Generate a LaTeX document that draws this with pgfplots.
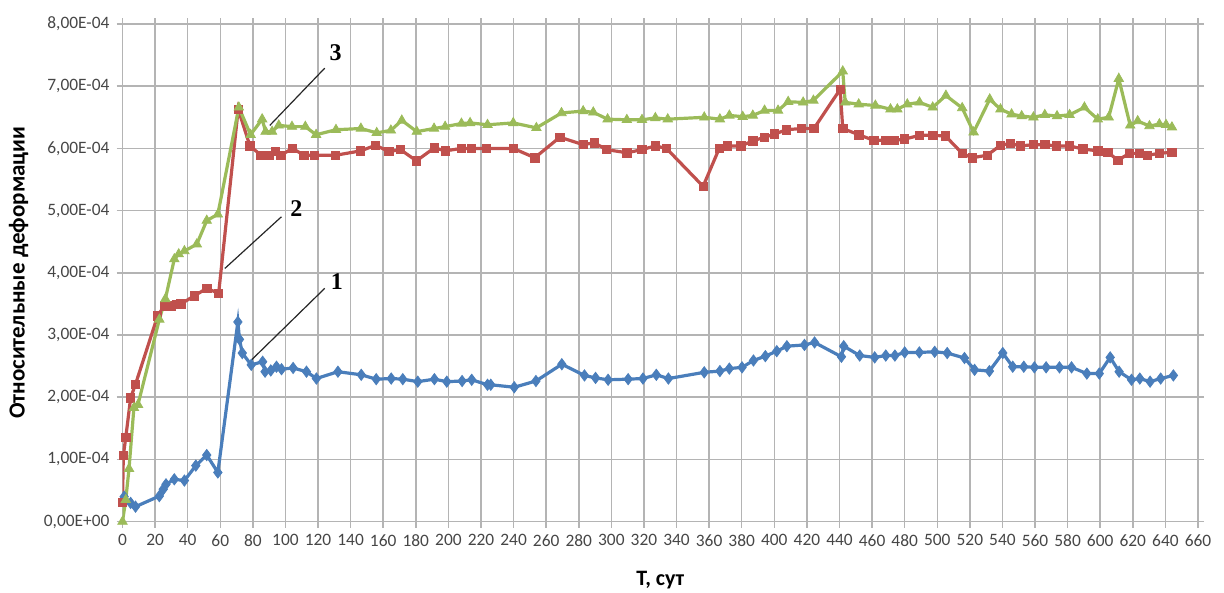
\documentclass[border=0pt]{standalone}
\usepackage{fontspec}
\setmainfont{Carlito}
\newfontfamily\serif{Liberation Serif}
\usepackage{pgfplots}
\pgfplotsset{compat=1.18}
\definecolor{s1}{RGB}{74,126,187}
\definecolor{s2}{RGB}{192,80,77}
\definecolor{s3}{RGB}{155,187,89}
\definecolor{gridc}{RGB}{180,180,180}
\definecolor{tickc}{RGB}{70,70,70}
\begin{document}
\begin{tikzpicture}
\path[use as bounding box] (-61.25pt,-35.7pt) rectangle (550.75pt,260.8pt);
\begin{axis}[
  at={(0,0)}, anchor=south west,
  scale only axis, width=537.75pt, height=248.8pt,
  xmin=0, xmax=660, ymin=0, ymax=8e-4,
  xtick={0,20,...,660},
  ytick={0,1e-4,2e-4,3e-4,4e-4,5e-4,6e-4,7e-4,8e-4},
  yticklabels={{0,00E+00},{1,00E-04},{2,00E-04},{3,00E-04},{4,00E-04},{5,00E-04},{6,00E-04},{7,00E-04},{8,00E-04}},
  scaled y ticks=false,
  /pgf/number format/assume math mode=true,
  grid=major,
  major grid style={gridc, line width=0.75pt},
  axis line style={gridc, line width=0.75pt},
  tick style={gridc, line width=0.75pt},
  tick align=outside, major tick length=3pt,
  ticklabel style={font=\fontsize{8.7}{10}\selectfont, text=tickc},
  xlabel={T, сут},
  ylabel={Относительные деформации},
  xlabel style={font=\bfseries\fontsize{11}{12}\selectfont, at={(axis description cs:0.5,-0.1166)}, anchor=center},
  ylabel style={font=\bfseries\fontsize{11.5}{12}\selectfont, at={(axis description cs:-0.0967,0.5)}, anchor=center},
  every axis plot/.append style={line width=1.6pt},
]
\addplot[s1, mark=diamond*, mark size=2.8pt, mark options={line width=0.4pt}] coordinates {
(1,0.40e-4) (5,0.30e-4) (8,0.24e-4) (22.6,0.41e-4) (25,0.52e-4) (26.7,0.60e-4) (31.8,0.68e-4) (38,0.66e-4)
(45,0.90e-4) (51.7,1.07e-4) (58.5,0.79e-4) (70.8,3.21e-4) (71.8,2.93e-4) (73.5,2.71e-4) (79,2.52e-4)
(86,2.57e-4) (87.5,2.41e-4) (91,2.43e-4) (94.5,2.49e-4) (97.6,2.45e-4) (104.7,2.47e-4) (112.9,2.41e-4)
(119,2.30e-4) (132.2,2.41e-4) (146.5,2.36e-4) (155.7,2.29e-4) (164.9,2.30e-4) (172,2.29e-4) (181.2,2.25e-4)
(191.4,2.29e-4) (199,2.25e-4) (208.4,2.26e-4) (214.3,2.28e-4) (224,2.20e-4) (226,2.20e-4) (240.4,2.16e-4)
(253.7,2.26e-4) (269.6,2.53e-4) (283.5,2.35e-4) (290.3,2.31e-4) (298,2.28e-4) (310.3,2.29e-4) (319.4,2.30e-4)
(327.6,2.36e-4) (335,2.30e-4) (357,2.40e-4) (366.6,2.42e-4) (372.4,2.46e-4) (380.2,2.48e-4) (387.2,2.59e-4)
(394.5,2.66e-4) (401.5,2.74e-4) (407.7,2.82e-4) (418.5,2.84e-4) (424.7,2.88e-4) (441.2,2.65e-4) (442.6,2.82e-4)
(452.4,2.67e-4) (461.6,2.64e-4) (468.4,2.67e-4) (474,2.67e-4) (480,2.72e-4) (489,2.72e-4) (498.4,2.73e-4)
(506.1,2.71e-4) (516.7,2.63e-4) (522.9,2.44e-4) (532,2.42e-4) (540.2,2.71e-4) (546.3,2.49e-4) (553.1,2.49e-4)
(559.6,2.48e-4) (566.8,2.48e-4) (575,2.48e-4) (582.4,2.48e-4) (591.8,2.38e-4) (599.4,2.38e-4) (606.1,2.64e-4)
(611.6,2.41e-4) (619.2,2.28e-4) (624.3,2.30e-4) (630.6,2.25e-4) (637.1,2.30e-4) (644.9,2.35e-4)
};
\addplot[s2, mark=square*, mark size=2.1pt, mark options={line width=0.4pt}] coordinates {
(0,0.31e-4) (0.5,1.06e-4) (2,1.35e-4) (5,1.99e-4) (8,2.21e-4) (21.6,3.31e-4) (25.7,3.47e-4) (29.8,3.47e-4)
(33,3.49e-4) (35.9,3.50e-4) (44.1,3.63e-4) (51.7,3.75e-4) (59,3.67e-4) (71,6.63e-4) (78.2,6.04e-4)
(85,5.89e-4) (90,5.89e-4) (94,5.95e-4) (97.1,5.89e-4) (104.3,6.00e-4) (111.4,5.89e-4) (117.6,5.89e-4)
(130.8,5.89e-4) (146.1,5.96e-4) (155.3,6.05e-4) (163.5,5.95e-4) (170.6,5.98e-4) (180.4,5.80e-4) (191.4,6.01e-4)
(198,5.96e-4) (208,6.00e-4) (214,6.00e-4) (223.3,6.00e-4) (239.8,6.00e-4) (253,5.85e-4) (268.4,6.18e-4)
(282.7,6.06e-4) (289.5,6.09e-4) (297.1,5.98e-4) (309.5,5.93e-4) (318.8,5.98e-4) (327,6.04e-4) (333.8,6.00e-4)
(356.3,5.39e-4) (366.2,6.00e-4) (371.3,6.04e-4) (379.6,6.04e-4) (386.8,6.12e-4) (394,6.18e-4) (400.2,6.23e-4)
(407.4,6.30e-4) (416.7,6.32e-4) (424.3,6.32e-4) (440.4,6.95e-4) (442,6.32e-4) (451.8,6.22e-4) (461,6.13e-4)
(468.3,6.13e-4) (473.5,6.13e-4) (480,6.15e-4) (489.1,6.21e-4) (497.2,6.21e-4) (505,6.20e-4) (515.3,5.92e-4)
(521.4,5.85e-4) (530.6,5.89e-4) (538.8,6.05e-4) (544.9,6.08e-4) (551,6.04e-4) (559,6.06e-4) (566,6.06e-4)
(573.1,6.04e-4) (581.2,6.04e-4) (589.4,5.99e-4) (598.5,5.96e-4) (604.6,5.94e-4) (610.8,5.81e-4) (617.9,5.92e-4)
(624.1,5.92e-4) (629,5.89e-4) (636.3,5.92e-4) (644,5.94e-4)
};
\addplot[s3, mark=triangle*, mark size=2.7pt, mark options={line width=0.4pt}] coordinates {
(0,0) (2,0.35e-4) (4,0.85e-4) (7,1.83e-4) (9.5,1.88e-4) (22.6,3.25e-4) (26.3,3.58e-4) (31.8,4.22e-4)
(34.5,4.30e-4) (38,4.35e-4) (45.6,4.46e-4) (51.7,4.84e-4) (58.5,4.94e-4) (71.4,6.66e-4) (78.6,6.22e-4)
(85.7,6.47e-4) (87.8,6.27e-4) (91.8,6.27e-4) (95.9,6.37e-4) (104,6.35e-4) (112.2,6.35e-4) (118.8,6.22e-4)
(131,6.30e-4) (146.3,6.32e-4) (156,6.25e-4) (164.7,6.29e-4) (171.4,6.45e-4) (180.6,6.27e-4) (191.2,6.32e-4)
(198,6.35e-4) (208,6.40e-4) (213.3,6.41e-4) (224,6.38e-4) (239.8,6.41e-4) (254,6.33e-4) (269.4,6.57e-4)
(282.7,6.60e-4) (288.9,6.58e-4) (297.7,6.47e-4) (309.5,6.46e-4) (318.8,6.46e-4) (327,6.49e-4) (334.6,6.47e-4)
(357,6.50e-4) (366.6,6.47e-4) (372.4,6.53e-4) (380.6,6.51e-4) (386.8,6.53e-4) (394,6.61e-4) (402.3,6.61e-4)
(408.5,6.75e-4) (417.7,6.74e-4) (424,6.77e-4) (442,7.24e-4) (443.5,6.74e-4) (451.8,6.71e-4) (462,6.69e-4)
(471.3,6.63e-4) (475.5,6.63e-4) (481.6,6.71e-4) (489.1,6.74e-4) (497.2,6.66e-4) (505.3,6.85e-4) (515.3,6.65e-4)
(522.3,6.26e-4) (532.2,6.79e-4) (538.8,6.63e-4) (545.6,6.55e-4) (551.8,6.52e-4) (559,6.50e-4) (566,6.54e-4)
(573.5,6.52e-4) (581.2,6.54e-4) (590.3,6.66e-4) (598.5,6.47e-4) (605.2,6.50e-4) (611.4,7.12e-4) (618.4,6.37e-4)
(623,6.44e-4) (630.2,6.36e-4) (636.3,6.39e-4) (640.4,6.38e-4) (644,6.34e-4)
};
\draw[black!85, line width=0.6pt] (axis cs:124.1,7.29e-4) -- (axis cs:90.4,6.37e-4);
\draw[black!85, line width=0.6pt] (axis cs:97.5,4.90e-4) -- (axis cs:62.8,4.07e-4);
\draw[black!85, line width=0.6pt] (axis cs:124.1,3.75e-4) -- (axis cs:79.2,2.60e-4);
\node[font=\serif\bfseries\fontsize{12}{12}\selectfont] at (axis cs:130.8,7.54e-4) {3};
\node[font=\serif\bfseries\fontsize{12}{12}\selectfont] at (axis cs:106.7,5.04e-4) {2};
\node[font=\serif\bfseries\fontsize{12}{12}\selectfont] at (axis cs:131.6,3.86e-4) {1};
\end{axis}
\end{tikzpicture}
\end{document}
